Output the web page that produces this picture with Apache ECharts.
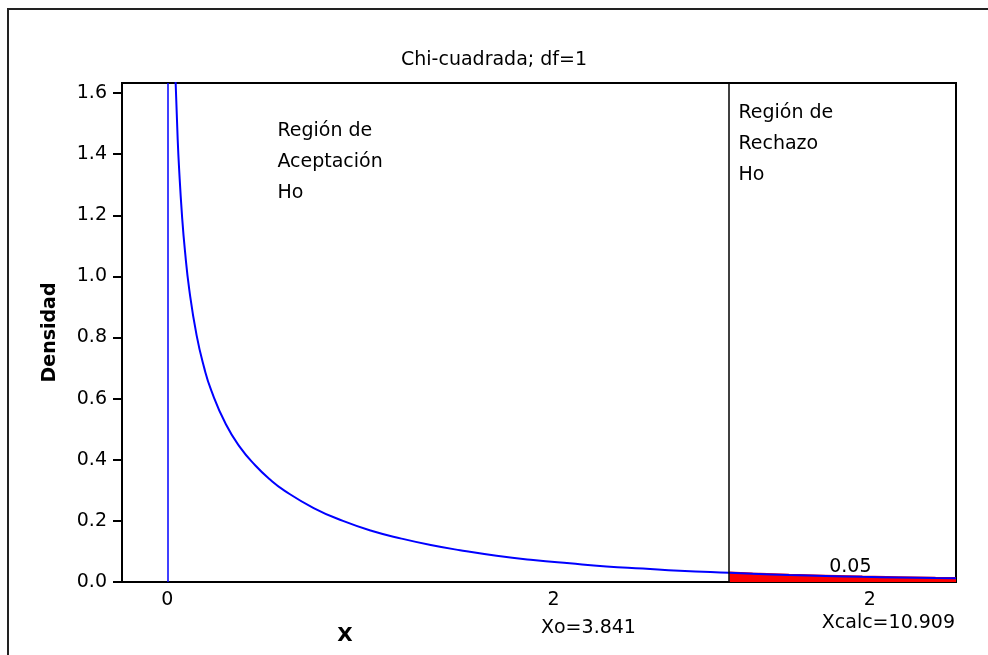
<!DOCTYPE html>
<html>
<head>
<meta charset="utf-8">
<script src="https://cdn.jsdelivr.net/npm/echarts@6/dist/echarts.min.js"></script>
<style>
  html, body { margin: 0; padding: 0; background: #fff; }
  #chart { width: 988px; height: 655px; }
</style>
</head>
<body>
<div id="chart"></div>
<script>
// densidad chi-cuadrada (df=1)
const curveX = [0.055, 0.07, 0.08, 0.1, 0.12, 0.15, 0.2, 0.25, 0.3, 0.4, 0.5, 0.6, 0.7, 0.8, 1.0,
  1.2, 1.4, 1.6, 1.8, 2.0, 2.25, 2.5, 2.75, 3.0, 3.25, 3.5, 3.841, 4.0, 4.25, 4.5, 4.75, 5.0, 5.25, 5.39];
const curveY = [1.655, 1.456, 1.355, 1.200, 1.085, 0.956, 0.807, 0.704, 0.627, 0.516, 0.439, 0.382, 0.336, 0.299, 0.242,
  0.200, 0.167, 0.142, 0.121, 0.104, 0.086, 0.072, 0.061, 0.051, 0.044, 0.037, 0.030, 0.027, 0.023, 0.020, 0.017, 0.015, 0.013, 0.012];

// region de rechazo (area roja)
const tailX = [3.841, 4.0, 4.25, 4.5, 4.75, 5.0, 5.25, 5.39];
const tailY = [0.030, 0.027, 0.023, 0.020, 0.017, 0.015, 0.013, 0.012];

const xCritico = 3.841;
const xTickValues = [0, 2.64, 4.8];
const xTickLabels = ["0", "2", "2"];

const FONT = "DejaVu Sans";

let myChart = echarts.init(document.getElementById("chart"));

const toPairs = (xs, ys) => xs.map((x, i) => [x, ys[i]]);

myChart.setOption({
  backgroundColor: "#ffffff",
  animation: false,
  title: {
    text: "Chi-cuadrada; df=1",
    left: "center",
    top: 46,
    textStyle: { fontFamily: FONT, fontSize: 19, fontWeight: "normal", color: "#000" },
  },
  grid: {
    left: 122,
    right: 32,
    top: 83,
    bottom: 73,
    show: true,
    borderColor: "#000",
    borderWidth: 2,
    backgroundColor: "transparent",
  },
  xAxis: {
    type: "value",
    min: -0.31,
    max: 5.39,
    axisLine: { show: true, onZero: false, lineStyle: { color: "#000", width: 2 } },
    axisTick: { show: false },
    splitLine: { show: false },
    axisLabel: {
      customValues: xTickValues,
      formatter: (v) => {
        const i = xTickValues.findIndex((t) => Math.abs(t - v) < 1e-6);
        return i >= 0 ? xTickLabels[i] : "";
      },
      margin: 9,
      color: "#000",
      fontFamily: FONT,
      fontSize: 19,
    },
  },
  yAxis: {
    type: "value",
    min: 0,
    max: 1.633,
    interval: 0.2,
    name: "Densidad",
    nameLocation: "middle",
    nameGap: 62,
    nameTextStyle: { fontFamily: FONT, fontSize: 19, fontWeight: "bold", color: "#000" },
    axisLine: { show: true, onZero: false, lineStyle: { color: "#000", width: 2 } },
    axisTick: { show: true, length: 9, lineStyle: { color: "#000", width: 2 } },
    splitLine: { show: false },
    axisLabel: {
      showMaxLabel: false,
      margin: 15,
      color: "#000",
      fontFamily: FONT,
      fontSize: 19,
      formatter: (v) => v.toFixed(1),
    },
  },
  series: [
    {
      name: "rechazo",
      type: "line",
      data: toPairs(tailX, tailY),
      showSymbol: false,
      smooth: false,
      lineStyle: { color: "#ff0000", width: 2.5 },
      areaStyle: { color: "#ff0000", opacity: 1 },
      markLine: {
        silent: true,
        symbol: ["none", "none"],
        label: { show: false },
        lineStyle: { color: "#000", width: 1.5, type: "solid" },
        data: [{ xAxis: xCritico }],
      },
      z: 2,
    },
    {
      name: "densidad",
      type: "line",
      data: toPairs(curveX, curveY),
      showSymbol: false,
      smooth: true,
      lineStyle: { color: "#0000ff", width: 2 },
      markLine: {
        silent: true,
        symbol: ["none", "none"],
        label: { show: false },
        lineStyle: { color: "#0000ff", width: 1.5, type: "solid" },
        data: [{ xAxis: 0 }],
      },
      z: 3,
    },
  ],
});

// textos del grafico, colocados en coordenadas de datos
const notas = [
  { x: 0.752, y: 1.528, text: "Región de\nAceptación\nHo", align: "left" },
  { x: 3.903, y: 1.584, text: "Región de\nRechazo\nHo", align: "left" },
  { x: 4.668, y: 0.098, text: "0.05", align: "center" },
];
const notasEje = [
  { x: 2.878, dy: 46, text: "Xo=3.841" },
  { x: 4.928, dy: 41, text: "Xcalc=10.909" },
];

const grafico = [
  {
    type: "rect",
    shape: { x: 8, y: 9, width: 1000, height: 700 },
    style: { fill: "none", stroke: "#222", lineWidth: 2 },
    silent: true,
  },
  {
    type: "text",
    x: 345,
    y: 636,
    style: { text: "X", fontFamily: FONT, fontSize: 20, fontWeight: "bold", fill: "#000", align: "center", verticalAlign: "middle" },
  },
];
notas.forEach((n) => {
  const p = myChart.convertToPixel({ gridIndex: 0 }, [n.x, n.y]);
  grafico.push({
    type: "text",
    x: p[0],
    y: p[1],
    style: { text: n.text, fontFamily: FONT, fontSize: 19, lineHeight: 31, fill: "#000", align: n.align, verticalAlign: "top" },
  });
});
notasEje.forEach((n) => {
  const p = myChart.convertToPixel({ gridIndex: 0 }, [n.x, 0]);
  grafico.push({
    type: "text",
    x: p[0],
    y: p[1] + n.dy,
    style: { text: n.text, fontFamily: FONT, fontSize: 19, fill: "#000", align: "center", verticalAlign: "middle" },
  });
});
myChart.setOption({ graphic: grafico });

window.onresize = function () {
  myChart.resize();
};
</script>
</body>
</html>
